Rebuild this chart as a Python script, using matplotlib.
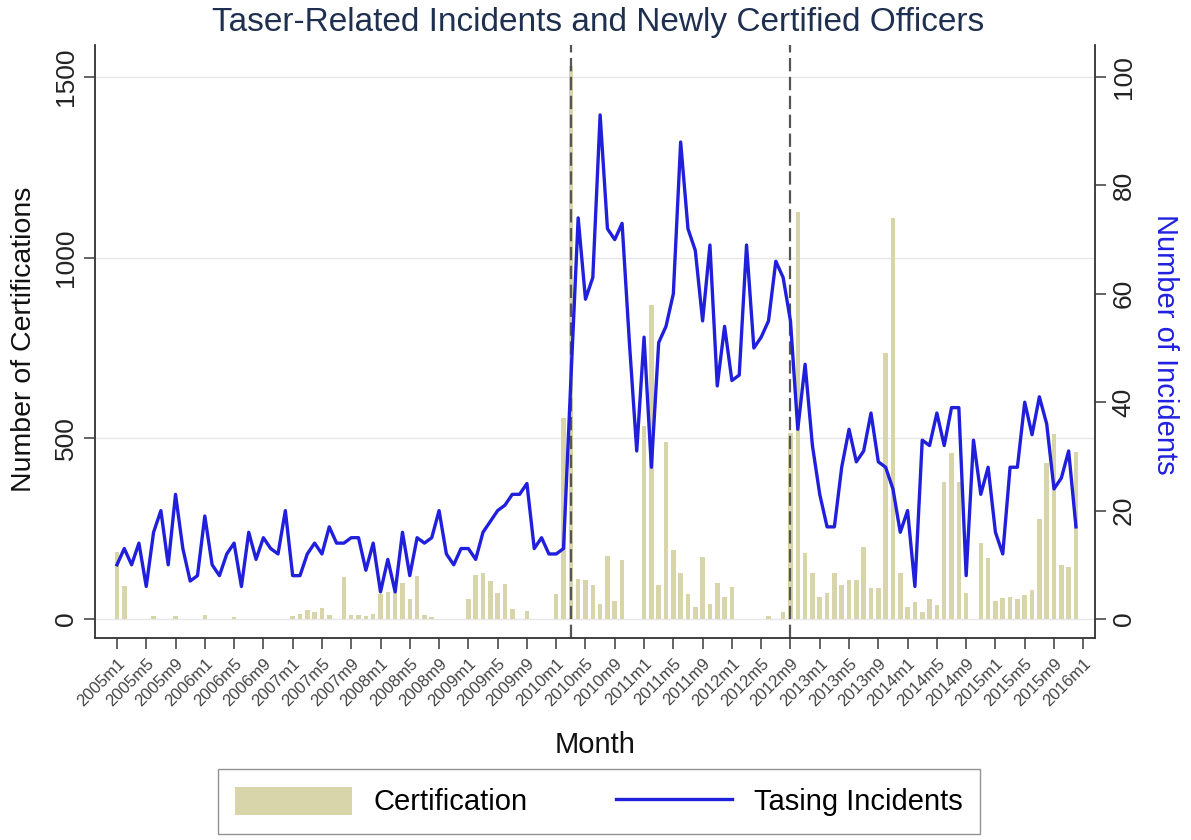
import matplotlib
matplotlib.use("Agg")
import matplotlib.pyplot as plt
from matplotlib.lines import Line2D
from matplotlib.patches import Patch

plt.rcParams['font.family'] = ['Liberation Sans', 'DejaVu Sans']

# Monthly data, 2005m1 .. 2015m12 (132 months)
certifications = [
    185, 90, 0, 0, 0, 8, 0, 0, 8, 0,
    0, 0, 10, 0, 0, 0, 5, 0, 0, 0,
    0, 0, 0, 0, 8, 15, 25, 18, 30, 12,
    0, 115, 10, 12, 8, 15, 70, 76, 86, 100,
    55, 120, 10, 5, 0, 0, 0, 0, 55, 122,
    127, 105, 71, 98, 28, 0, 22, 0, 0, 0,
    69, 557, 1530, 112, 108, 94, 42, 175, 50, 164,
    0, 0, 534, 870, 94, 490, 192, 126, 70, 33,
    172, 42, 99, 61, 89, 0, 0, 0, 0, 8,
    0, 20, 515, 1127, 182, 126, 62, 71, 126, 94,
    108, 108, 200, 85, 85, 735, 1109, 126, 34, 48,
    20, 54, 39, 380, 459, 380, 71, 0, 209, 170,
    51, 57, 62, 55, 66, 81, 276, 431, 512, 149,
    143, 463,
]

incidents = [
    10, 13, 10, 14, 6, 16, 20, 10, 23, 13,
    7, 8, 19, 10, 8, 12, 14, 6, 16, 11,
    15, 13, 12, 20, 8, 8, 12, 14, 12, 17,
    14, 14, 15, 15, 9, 14, 5, 11, 5, 16,
    8, 15, 14, 15, 20, 12, 10, 13, 13, 11,
    16, 18, 20, 21, 23, 23, 25, 13, 15, 12,
    12, 13, 44, 74, 59, 63, 93, 72, 70, 73,
    51, 31, 52, 28, 51, 54, 60, 88, 72, 68,
    55, 69, 43, 54, 44, 45, 69, 50, 52, 55,
    66, 63, 55, 35, 47, 32, 23, 17, 17, 28,
    35, 29, 31, 38, 29, 28, 24, 16, 20, 6,
    33, 32, 38, 32, 39, 39, 8, 33, 23, 28,
    16, 12, 28, 28, 40, 34, 41, 36, 24, 26,
    31, 17,
]

x_tick_labels = [
    "2005m1", "2005m5", "2005m9", "2006m1", "2006m5", "2006m9",
    "2007m1", "2007m5", "2007m9", "2008m1", "2008m5", "2008m9",
    "2009m1", "2009m5", "2009m9", "2010m1", "2010m5", "2010m9",
    "2011m1", "2011m5", "2011m9", "2012m1", "2012m5", "2012m9",
    "2013m1", "2013m5", "2013m9", "2014m1", "2014m5", "2014m9",
    "2015m1", "2015m5", "2015m9", "2016m1",
]
event_months = [62, 92]  # 2010m3, 2012m9

left_ticks = [0, 500, 1000, 1500]
right_ticks = [0, 20, 40, 60, 80, 100]

BAR_COLOR = '#d9d5aa'
LINE_COLOR = '#1f1fdc'
AXIS_COLOR = '#3a3a3a'

months = list(range(len(certifications)))
x_tick_pos = [4 * k for k in range(len(x_tick_labels))]

fig = plt.figure(figsize=(11.91, 8.4), dpi=100)
ax = fig.add_axes([95 / 1191, 1 - 638 / 840, 1000 / 1191, 593 / 840])

ylo, yhi = -52.6, 1588.6
ax.bar(months, certifications, width=0.62, color=BAR_COLOR, zorder=1)
for m in event_months:
    ax.axvline(m, color='#555555', lw=1.6, ls=(0, (6, 2.5)), zorder=2)
ax.set_ylim(ylo, yhi)
ax.set_xlim(-3.0, 133.6)
ax.set_yticks(left_ticks)
ax.set_yticklabels([str(v) for v in left_ticks])
ax.yaxis.grid(True, color='#e6e6e6', lw=1.0)
ax.set_axisbelow(True)
ax.tick_params(axis='y', labelrotation=90, labelsize=19, length=8, width=1.1,
               color=AXIS_COLOR, labelcolor='#222222', pad=4)
for lab in ax.get_yticklabels():
    lab.set_va('center')
ax.set_xticks(x_tick_pos)
ax.set_xticklabels(x_tick_labels, rotation=45, ha='right', rotation_mode='anchor',
                   fontsize=12, color='#444444')
ax.tick_params(axis='x', length=8, width=1.1, color=AXIS_COLOR, pad=5)

ax.set_ylabel('Number of Certifications', fontsize=20.5, color='#111111', va='center')
ax.yaxis.set_label_coords(-0.0705, 0.503)
ax.set_xlabel('Month', fontsize=21, color='#111111', va='center')
ax.xaxis.set_label_coords(0.5, -0.180)

for s in ['left', 'bottom', 'right']:
    ax.spines[s].set_color(AXIS_COLOR)
    ax.spines[s].set_linewidth(1.1)
ax.spines['top'].set_visible(False)

ax2 = ax.twinx()
ax2.plot(months, incidents, color=LINE_COLOR, lw=2.4, zorder=3)
ax2.set_ylim(ylo / 15, yhi / 15)
ax2.set_yticks(right_ticks)
ax2.set_yticklabels([str(v) for v in right_ticks])
ax2.tick_params(axis='y', labelrotation=90, labelsize=19, length=8, width=1.1,
                color=AXIS_COLOR, labelcolor='#222222', pad=4)
for lab in ax2.get_yticklabels():
    lab.set_va('center')
ax2.set_ylabel('Number of Incidents', fontsize=21, color='#2020e0', rotation=270,
               va='center')
ax2.yaxis.set_label_coords(1.07, 0.496)
for s in ['left', 'bottom', 'right']:
    ax2.spines[s].set_color(AXIS_COLOR)
    ax2.spines[s].set_linewidth(1.1)
ax2.spines['top'].set_visible(False)

fig.text(0.502, 1 - 22 / 840, 'Taser-Related Incidents and Newly Certified Officers',
         ha='center', va='center', fontsize=24, color='#1e2f4f')

handles = [Patch(facecolor=BAR_COLOR, edgecolor='none'),
           Line2D([], [], color=LINE_COLOR, lw=2.4)]
leg = fig.legend(handles, ['Certification', 'Tasing Incidents'], ncol=2,
                 loc='center', bbox_to_anchor=(0.503, 0.0458), frameon=True,
                 fancybox=False, edgecolor='#777777', fontsize=21,
                 handlelength=4.0, handleheight=1.1, columnspacing=3.0,
                 handletextpad=0.75, borderpad=0.6)
leg.get_frame().set_linewidth(1.0)

fig.savefig('out.png', dpi=100, facecolor='white')
